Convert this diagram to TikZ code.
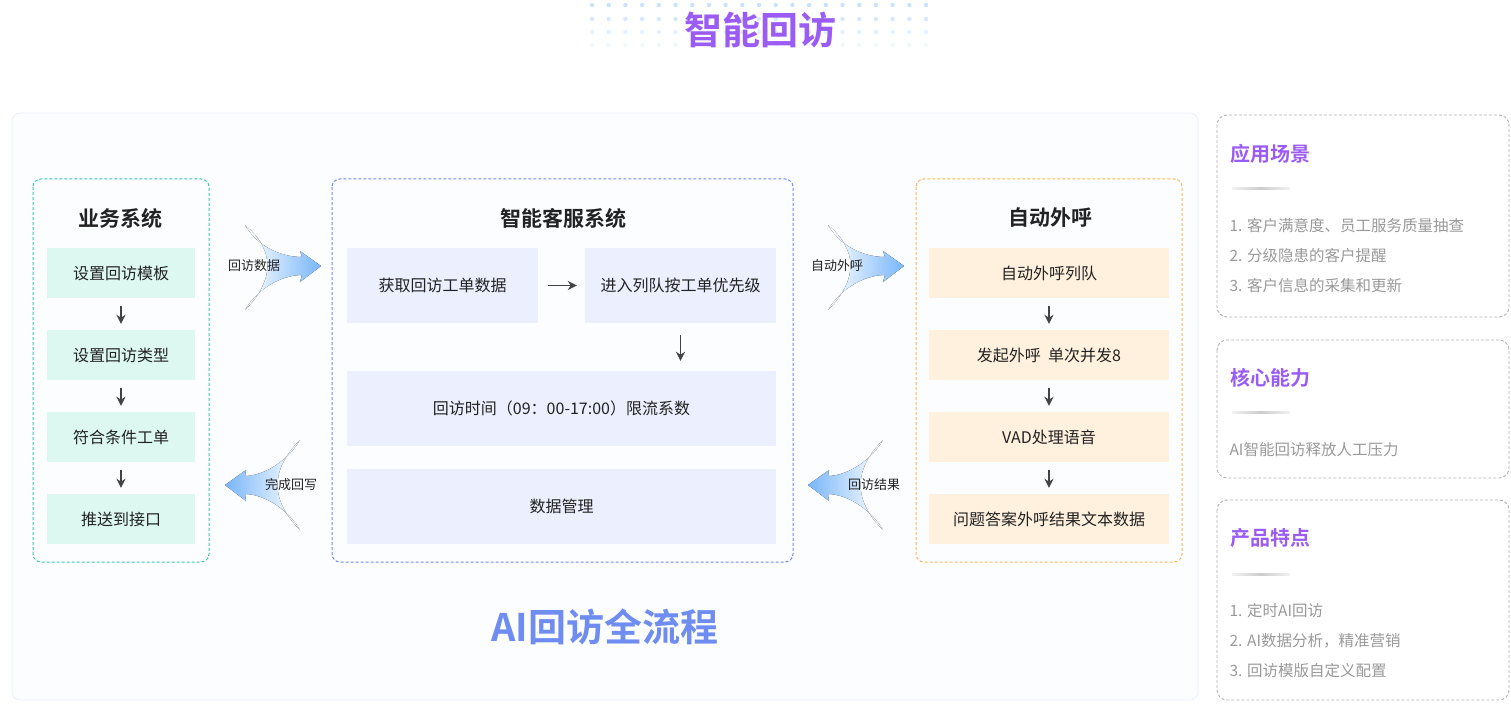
\documentclass[tikz,border=0pt]{standalone}
\usepackage{fontspec}
\setmainfont{Noto Sans CJK SC}[BoldFont={Noto Sans CJK SC Bold}]
\usetikzlibrary{arrows.meta}
\definecolor{teal1}{HTML}{3CC7B0}
\definecolor{blue1}{HTML}{6F8CF0}
\definecolor{org1}{HTML}{F5B85C}
\definecolor{mint}{HTML}{DDF8F1}
\definecolor{lav}{HTML}{ECEFFE}
\definecolor{peach}{HTML}{FFF1DD}
\definecolor{txt}{HTML}{222222}
\definecolor{gry}{HTML}{999999}
\definecolor{purp}{HTML}{9A5CF5}
\definecolor{arr}{HTML}{78B6FA}
\begin{document}
\begin{tikzpicture}[x=1pt,y=-1pt,
  item/.style={inner sep=0pt,font=\fontsize{16}{19}\selectfont,text=txt},
  ttl/.style={font=\fontsize{21}{25}\selectfont\bfseries,text=txt},
  sidettl/.style={font=\fontsize{20}{24}\selectfont\bfseries,text=purp,anchor=west},
  sidetxt/.style={font=\fontsize{15.5}{18}\selectfont,text=gry,anchor=west},
  down/.style={-{Stealth[length=9pt,width=9pt]},line width=1.6pt,draw=txt!85},
  fat/.style={left color=white,right color=arr,draw=none},
  fatl/.style={right color=white,left color=arr,draw=none},
  box/.style={dashed,rounded corners=8pt,line width=1pt,dash pattern=on 3pt off 2pt},
  side/.style={draw=gray!60,rounded corners=10pt,line width=0.9pt,dash pattern=on 3pt off 2pt}]
\useasboundingbox (0,0) rectangle (1511,714);
% title dots
\foreach \i in {0,...,20}{\foreach \j/\o in {5/40,19/30,32/20,45/10}{
  \fill[arr!\o] (592+\i*16.7,\j) circle (2.2pt);}}
\node[font=\fontsize{38}{44}\selectfont\bfseries,text=purp] (title) at (760,30) {智能回访};
% outer panel
\draw[draw=blue1!15,fill=blue1!2,rounded corners=8pt,line width=0.8pt] (12,113) rectangle (1198,700);
% business system
\draw[teal1,box] (33,179) rectangle (209,562);
\node[ttl] (bt) at (120,218) {业务系统};
\foreach \n/\y/\t in {b1/273/设置回访模板,b2/355/设置回访类型,b3/437/符合条件工单,b4/519/推送到接口}{
  \node[item,fill=mint,minimum width=148pt,minimum height=50pt] (\n) at (121,\y) {\t};}
\foreach \a/\b in {b1/b2,b2/b3,b3/b4}{\draw[down] ([yshift=-8pt]\a.south) -- ([yshift=6pt]\b.north);}
% middle
\draw[blue1,box] (332,179) rectangle (793,562);
\node[ttl] (mt) at (563,218) {智能客服系统};
\node[item,fill=lav,minimum width=191pt,minimum height=75pt] (m1) at (442.5,285.5) {获取回访工单数据};
\node[item,fill=lav,minimum width=191pt,minimum height=75pt] (m2) at (680.5,285.5) {进入列队按工单优先级};
\node[item,fill=lav,minimum width=429pt,minimum height=75pt] (m3) at (561.5,408.5) {回访时间（09：00-17:00）限流系数};
\node[item,fill=lav,minimum width=429pt,minimum height=75pt] (m4) at (561.5,506.5) {数据管理};
\draw[down] ([xshift=10pt]m1.east) -- ([xshift=-8pt]m2.west);
\draw[down] ([yshift=-12pt]m2.south) -- ([yshift=10pt]m3.north-|m2.south);
% right
\draw[org1,box] (916,179) rectangle (1182,562);
\node[ttl] (rt) at (1050,218) {自动外呼};
\foreach \n/\y/\t in {r1/273/自动外呼列队,r2/355/发起外呼\ \ 单次并发8,r3/437/VAD处理语音,r4/519/问题答案外呼结果文本数据}{
  \node[item,fill=peach,minimum width=240pt,minimum height=50pt] (\n) at (1049,\y) {\t};}
\foreach \a/\b in {r1/r2,r2/r3,r3/r4}{\draw[down] ([yshift=-8pt]\a.south) -- ([yshift=6pt]\b.north);}
% fat arrows
\foreach \x in {0,583}{
\fill[fat] (245+\x,225) .. controls (260+\x,250) and (285+\x,257) .. (302+\x,257) -- (300+\x,251) -- (321+\x,266) -- (300+\x,282) -- (302+\x,275) .. controls (285+\x,275) and (260+\x,285) .. (245+\x,310) .. controls (275+\x,280) and (275+\x,250) .. (245+\x,225);
\fill[fatl] (300+\x,440) .. controls (285+\x,465) and (260+\x,476) .. (245+\x,476) -- (246+\x,470) -- (225+\x,485) -- (246+\x,501) -- (245+\x,494) .. controls (260+\x,494) and (285+\x,505) .. (300+\x,530) .. controls (270+\x,500) and (270+\x,470) .. (300+\x,440);
}
\node[font=\fontsize{13}{15}\selectfont,text=txt] (l1) at (254,266) {回访数据};
\node[font=\fontsize{13}{15}\selectfont,text=txt] (l2) at (291,485) {完成回写};
\node[font=\fontsize{13}{15}\selectfont,text=txt] (l3) at (837,266) {自动外呼};
\node[font=\fontsize{13}{15}\selectfont,text=txt] (l4) at (874,485) {回访结果};
\node[font=\fontsize{38}{44}\selectfont\bfseries,text=blue1] (big) at (605,627) {AI回访全流程};
% side panels
\draw[side] (1217,115) rectangle (1509,317);
\draw[side] (1217,340) rectangle (1509,478);
\draw[side] (1217,500) rectangle (1509,700);
\node[sidettl] (s1) at (1227,154) {应用场景};
\node[sidettl] (s2) at (1227,378) {核心能力};
\node[sidettl] (s3) at (1227,538) {产品特点};
\foreach \y in {188,412,574}{\fill[left color=gray!10,right color=gray!10,middle color=gray!40] (1232,\y-1) rectangle (1290,\y+1);}
\node[sidetxt] (t1) at (1226,226) {1. 客户满意度、员工服务质量抽查};
\node[sidetxt] (t2) at (1226,256) {2. 分级隐患的客户提醒};
\node[sidetxt] (t3) at (1226,286) {3. 客户信息的采集和更新};
\node[sidetxt] (t4) at (1226,450) {AI智能回访释放人工压力};
\node[sidetxt] (t5) at (1226,611) {1. 定时AI回访};
\node[sidetxt] (t6) at (1226,641) {2. AI数据分析，精准营销};
\node[sidetxt] (t7) at (1226,671) {3. 回访模版自定义配置};
\end{tikzpicture}
\end{document}
